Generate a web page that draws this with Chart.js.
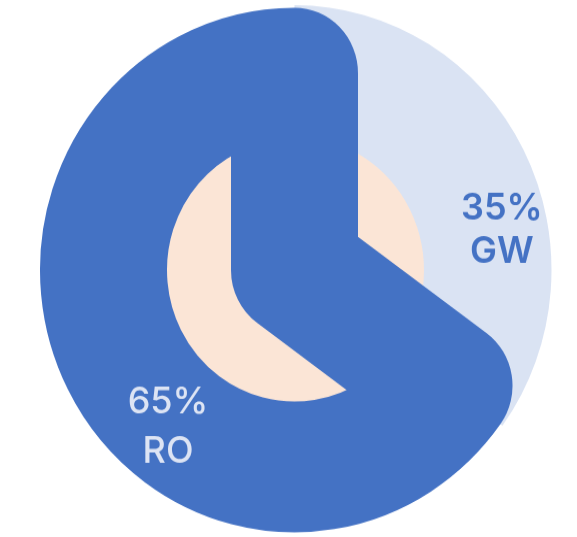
<!DOCTYPE html>
<html>
<head>
<meta charset="utf-8">
<script src="https://cdn.jsdelivr.net/npm/chart.js@4.4.1/dist/chart.umd.min.js"></script>
<style>
  html, body { margin: 0; padding: 0; background: #ffffff; }
  #wrap { position: relative; width: 577px; height: 537px; overflow: hidden; }
  #wrap canvas { position: absolute; left: 0; top: 0; }
</style>
</head>
<body>
<div id="wrap">
  <canvas id="track" width="577" height="521" style="width:577px;height:537px"></canvas>
  <canvas id="hub" width="577" height="521" style="width:577px;height:537px"></canvas>
  <canvas id="ring" width="577" height="521" style="width:577px;height:537px"></canvas>
</div>
<script>
// Water source split
const categories = ['GW', 'RO'];
const shares = [35, 65];

const DARK = '#4472C4';
const LIGHT = '#DAE3F3';
const PEACH = '#FBE5D6';
const CLEAR = 'rgba(0,0,0,0)';

// Where each label block sits, in polar terms around the pie centre
const labelPlacement = [
  { angle: 79.4, dist: 211, gap: 42, color: DARK, weight: 600 },
  { angle: 219.7, dist: 198, gap: 48, color: '#DDE4F4', weight: 500 }
];

function baseOptions(radius) {
  return {
    responsive: false,
    animation: false,
    events: [],
    radius: radius,
    layout: { padding: { left: 12, right: 0, top: 3, bottom: 0 } },
    plugins: { legend: { display: false }, tooltip: { enabled: false } }
  };
}

// Back layer: the GW share as a filled wedge
new Chart(document.getElementById('track'), {
  type: 'pie',
  data: {
    labels: categories,
    datasets: [{ data: shares, backgroundColor: [LIGHT, CLEAR], borderWidth: 0 }]
  },
  options: baseOptions(257)
});

// Middle layer: the pale hub
new Chart(document.getElementById('hub'), {
  type: 'pie',
  data: {
    labels: categories,
    datasets: [{ data: shares, backgroundColor: [PEACH, PEACH], borderWidth: 0 }]
  },
  options: baseOptions(129.5)
});

// Labels drawn next to the wedges, value on top and category below
const shareLabels = {
  id: 'shareLabels',
  afterDatasetsDraw(chart) {
    const meta = chart.getDatasetMeta(0);
    const ctx = chart.ctx;
    meta.data.forEach((arc, i) => {
      const p = labelPlacement[i];
      const a = p.angle * Math.PI / 180;
      const cx = arc.x + Math.sin(a) * p.dist;
      const cy = arc.y - Math.cos(a) * p.dist;
      ctx.save();
      ctx.fillStyle = p.color;
      ctx.font = p.weight + ' 36px Inter, "Noto Sans", sans-serif';
      ctx.textAlign = 'center';
      ctx.textBaseline = 'middle';
      ctx.fillText(shares[i] + '%', cx, cy - p.gap / 2);
      ctx.fillText(categories[i], cx, cy + p.gap / 2);
      ctx.restore();
    });
  }
};

// Front layer: the RO share as a thick outlined wedge with rounded joins
new Chart(document.getElementById('ring'), {
  type: 'pie',
  data: {
    labels: categories,
    datasets: [{
      data: shares,
      backgroundColor: [CLEAR, CLEAR],
      borderColor: [CLEAR, DARK],
      borderWidth: [0, 127],
      borderJoinStyle: 'round',
      borderAlign: 'center'
    }]
  },
  options: baseOptions(191),
  plugins: [shareLabels]
});
</script>
</body>
</html>
